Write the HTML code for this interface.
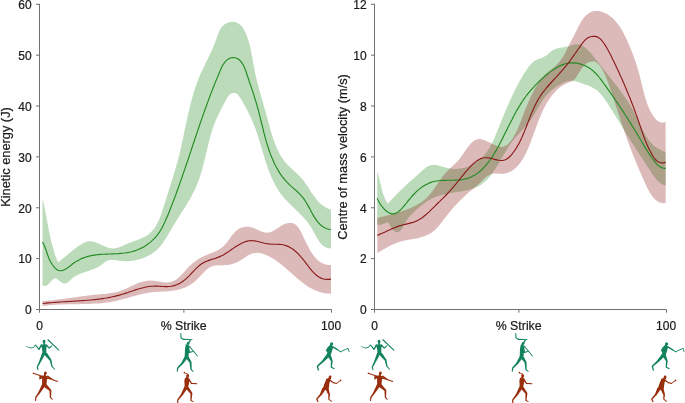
<!DOCTYPE html>
<html><head><meta charset="utf-8"><title>Figure</title>
<style>
html,body{margin:0;padding:0;background:#fff;}
body{width:685px;height:403px;overflow:hidden;}
svg{display:block;will-change:transform;}
text{font-family:"Liberation Sans",sans-serif;font-size:12px;fill:#1a1a1a;stroke:#1a1a1a;stroke-width:0.22px;}
</style></head><body>
<svg width="685" height="403" viewBox="0 0 685 403">
<!-- left chart -->
<path d="M42.5 198.0L42.9 199.9L43.4 201.9L43.8 203.9L44.2 205.8L44.6 207.8L45.0 209.8L45.3 211.7L45.7 213.7L46.1 215.7L46.5 217.7L46.8 219.7L47.2 221.7L47.6 223.6L48.0 225.6L48.3 227.6L48.7 229.6L49.1 231.6L49.5 233.6L50.0 235.5L50.4 237.5L50.8 239.5L51.3 241.4L51.8 243.4L52.3 245.3L52.8 247.2L53.4 249.1L53.9 251.1L54.5 253.0L55.1 254.9L55.8 256.7L56.5 258.6L57.2 260.5L57.9 262.3L59.5 261.2L61.0 260.0L62.5 258.8L64.1 257.5L65.6 256.3L67.2 255.0L68.7 253.7L70.3 252.4L71.9 251.1L73.4 249.8L75.1 248.5L76.7 247.3L78.4 246.1L80.1 245.0L81.8 243.9L83.6 242.9L85.4 242.2L87.2 241.6L89.0 241.2L90.8 241.2L92.7 241.4L94.5 242.0L96.4 242.7L98.2 243.5L100.1 244.3L102.0 245.2L103.8 246.0L105.7 246.8L107.6 247.4L109.4 247.9L111.3 248.2L113.1 248.4L114.9 248.3L116.8 247.9L118.6 247.4L120.4 246.7L122.3 245.9L124.1 245.0L126.0 244.2L128.0 243.4L129.9 242.7L131.9 241.9L133.9 241.2L135.9 240.5L137.8 239.7L139.8 239.0L141.6 238.2L143.5 237.3L145.2 236.4L146.9 235.4L148.5 234.3L150.0 233.1L151.3 231.8L152.6 230.4L153.8 229.0L154.9 227.4L156.0 225.8L156.9 224.1L157.8 222.4L158.7 220.6L159.5 218.8L160.2 216.9L160.9 215.0L161.6 213.0L162.3 211.1L162.9 209.1L163.5 207.1L164.1 205.2L164.8 203.2L165.4 201.2L166.0 199.3L166.6 197.4L167.2 195.4L167.8 193.5L168.4 191.6L169.0 189.7L169.6 187.8L170.2 185.9L170.8 184.0L171.4 182.1L172.0 180.2L172.6 178.3L173.2 176.4L173.8 174.5L174.3 172.6L174.9 170.7L175.4 168.8L176.0 166.9L176.5 165.0L177.1 163.1L177.6 161.2L178.1 159.3L178.6 157.4L179.1 155.5L179.6 153.5L180.0 151.6L180.5 149.7L180.9 147.7L181.4 145.8L181.8 143.8L182.2 141.9L182.7 139.9L183.1 137.9L183.5 136.0L183.9 134.0L184.3 132.0L184.7 130.1L185.2 128.1L185.6 126.1L186.0 124.1L186.4 122.2L186.8 120.2L187.2 118.2L187.7 116.3L188.1 114.3L188.6 112.3L189.0 110.4L189.5 108.4L190.0 106.5L190.4 104.5L190.9 102.6L191.4 100.6L192.0 98.7L192.5 96.8L193.1 94.9L193.6 93.0L194.2 91.0L194.8 89.2L195.4 87.3L196.1 85.4L196.7 83.5L197.4 81.7L198.1 79.8L198.9 78.0L199.6 76.2L200.4 74.3L201.2 72.5L202.0 70.7L202.9 69.0L203.7 67.2L204.6 65.4L205.4 63.6L206.3 61.8L207.2 60.0L208.1 58.2L208.9 56.4L209.8 54.6L210.6 52.8L211.5 51.0L212.3 49.2L213.1 47.3L213.9 45.4L214.7 43.6L215.4 41.6L216.1 39.7L216.8 37.8L217.5 35.8L218.2 33.9L218.9 32.0L219.8 30.2L220.7 28.4L221.8 26.9L223.2 25.4L224.7 24.2L226.5 23.2L228.5 22.5L230.5 22.0L232.4 21.8L234.3 21.9L236.0 22.3L237.6 23.0L239.0 23.9L240.4 25.0L241.6 26.3L242.8 27.8L243.8 29.5L244.8 31.2L245.7 33.1L246.5 35.1L247.2 37.1L247.9 39.1L248.6 41.1L249.1 43.1L249.7 45.1L250.2 47.2L250.6 49.1L251.0 51.1L251.4 53.1L251.8 55.1L252.2 57.0L252.5 59.0L252.9 60.9L253.2 62.9L253.6 64.8L253.9 66.8L254.3 68.7L254.7 70.6L255.1 72.6L255.5 74.5L255.9 76.4L256.4 78.3L256.8 80.3L257.3 82.2L257.8 84.1L258.3 86.0L258.8 87.9L259.3 89.9L259.9 91.8L260.4 93.7L260.9 95.6L261.5 97.6L262.0 99.5L262.6 101.4L263.2 103.3L263.7 105.3L264.3 107.2L264.8 109.2L265.4 111.1L265.9 113.0L266.5 115.0L267.0 116.9L267.6 118.9L268.1 120.9L268.6 122.8L269.2 124.8L269.7 126.7L270.2 128.7L270.8 130.7L271.3 132.6L271.9 134.5L272.5 136.5L273.1 138.4L273.7 140.3L274.4 142.1L275.1 144.0L275.8 145.8L276.6 147.7L277.4 149.5L278.3 151.2L279.2 153.0L280.1 154.7L281.1 156.4L282.2 158.0L283.3 159.6L284.5 161.2L285.7 162.7L287.0 164.2L288.4 165.7L289.8 167.1L291.3 168.5L292.8 169.8L294.3 171.2L295.9 172.6L297.4 173.9L298.8 175.3L300.2 176.8L301.6 178.2L302.9 179.7L304.1 181.3L305.2 182.9L306.3 184.5L307.4 186.1L308.5 187.8L309.5 189.5L310.6 191.2L311.7 192.9L312.9 194.6L314.1 196.2L315.3 197.8L316.5 199.4L317.8 200.9L319.2 202.4L320.7 203.7L322.2 205.0L323.8 206.2L325.4 207.2L327.2 208.2L329.0 209.0L331.0 209.6L331.0 248.6L328.8 248.3L326.8 247.7L325.0 246.9L323.4 245.9L322.0 244.7L320.6 243.3L319.4 241.9L318.3 240.3L317.3 238.6L316.3 236.8L315.3 235.0L314.4 233.2L313.4 231.4L312.4 229.5L311.4 227.8L310.3 226.0L309.1 224.4L307.9 222.7L306.6 221.1L305.3 219.6L304.0 218.1L302.6 216.6L301.2 215.1L299.8 213.7L298.4 212.2L296.9 210.8L295.4 209.4L294.0 208.0L292.5 206.6L291.1 205.2L289.7 203.8L288.3 202.4L286.9 200.9L285.5 199.5L284.2 198.0L282.9 196.5L281.7 195.0L280.5 193.4L279.4 191.8L278.3 190.2L277.2 188.5L276.2 186.8L275.2 185.1L274.3 183.3L273.4 181.6L272.6 179.8L271.7 178.0L271.0 176.1L270.2 174.3L269.5 172.4L268.7 170.5L268.0 168.7L267.4 166.8L266.7 164.8L266.1 162.9L265.5 161.0L264.9 159.0L264.3 157.1L263.7 155.1L263.1 153.2L262.5 151.2L261.9 149.3L261.4 147.3L260.8 145.4L260.2 143.5L259.6 141.5L259.0 139.6L258.4 137.7L257.8 135.8L257.2 133.9L256.6 132.0L255.9 130.1L255.2 128.3L254.6 126.5L253.8 124.6L253.1 122.8L252.3 121.0L251.6 119.2L250.8 117.5L249.9 115.7L249.1 113.9L248.2 112.1L247.3 110.3L246.3 108.5L245.3 106.7L244.3 104.8L243.3 103.0L242.2 101.1L241.1 99.2L240.0 97.4L238.7 95.7L237.4 94.3L235.9 93.3L234.4 92.9L232.7 92.9L231.2 93.5L229.8 94.6L228.5 96.0L227.3 97.7L226.2 99.6L225.1 101.6L224.1 103.6L223.1 105.5L222.1 107.3L221.2 109.1L220.2 110.9L219.3 112.7L218.5 114.4L217.6 116.2L216.8 118.0L216.0 119.7L215.3 121.6L214.6 123.4L213.9 125.2L213.2 127.1L212.6 129.0L212.0 130.9L211.4 132.8L210.9 134.7L210.3 136.6L209.8 138.6L209.3 140.5L208.8 142.5L208.3 144.5L207.8 146.4L207.4 148.4L206.9 150.4L206.4 152.4L206.0 154.3L205.5 156.3L205.0 158.3L204.5 160.2L204.0 162.2L203.5 164.2L203.0 166.1L202.5 168.1L202.0 170.0L201.4 171.9L200.8 173.8L200.2 175.8L199.6 177.6L199.0 179.5L198.3 181.4L197.6 183.3L196.9 185.1L196.1 186.9L195.3 188.8L194.4 190.6L193.5 192.3L192.6 194.1L191.7 195.9L190.7 197.6L189.8 199.4L188.7 201.1L187.7 202.8L186.7 204.5L185.6 206.2L184.6 207.9L183.5 209.6L182.4 211.3L181.3 213.0L180.2 214.7L179.1 216.4L178.0 218.1L177.0 219.8L175.9 221.5L174.8 223.3L173.8 225.0L172.7 226.7L171.7 228.4L170.7 230.2L169.7 231.9L168.7 233.7L167.7 235.4L166.7 237.1L165.6 238.8L164.5 240.5L163.4 242.1L162.3 243.7L161.1 245.2L159.8 246.7L158.5 248.2L157.1 249.5L155.6 250.9L154.0 252.1L152.4 253.3L150.7 254.4L148.9 255.4L147.1 256.3L145.2 257.2L143.3 258.0L141.3 258.7L139.3 259.3L137.4 259.8L135.4 260.3L133.4 260.6L131.5 260.9L129.5 261.1L127.6 261.2L125.7 261.2L123.7 261.1L121.8 260.9L119.7 260.7L117.7 260.4L115.5 260.1L113.4 259.9L111.4 259.8L109.4 260.0L107.6 260.6L105.9 261.5L104.3 262.6L102.7 263.9L101.1 265.1L99.4 266.3L97.7 267.2L95.9 268.1L94.1 268.9L92.2 269.6L90.3 270.3L88.4 270.9L86.6 271.5L84.7 272.2L82.8 272.8L81.0 273.5L79.2 274.2L77.4 275.1L75.7 276.0L74.0 277.1L72.3 278.3L70.8 279.7L69.2 281.1L67.7 282.4L66.1 283.3L64.4 283.5L62.6 283.0L60.8 281.9L59.0 280.6L57.4 279.2L55.9 278.0L54.0 278.7L52.3 279.9L50.8 281.6L49.3 283.3L47.9 284.8L46.3 285.8L44.5 286.1L42.5 285.4Z" fill="rgba(34,139,34,0.31)"/>
<path d="M42.6 301.0L44.6 300.9L46.6 300.7L48.6 300.6L50.6 300.4L52.6 300.2L54.6 300.0L56.6 299.8L58.6 299.5L60.6 299.3L62.6 299.0L64.6 298.8L66.6 298.5L68.6 298.2L70.5 298.0L72.5 297.7L74.5 297.4L76.5 297.1L78.5 296.8L80.5 296.6L82.5 296.3L84.4 296.0L86.4 295.8L88.4 295.5L90.4 295.3L92.4 295.1L94.4 294.8L96.4 294.6L98.5 294.5L100.5 294.3L102.5 294.1L104.5 293.9L106.5 293.7L108.5 293.4L110.5 293.1L112.5 292.8L114.4 292.4L116.4 292.0L118.3 291.5L120.2 290.9L122.1 290.3L124.0 289.5L125.9 288.7L127.7 287.9L129.6 287.0L131.4 286.1L133.2 285.2L135.1 284.4L136.9 283.6L138.7 282.9L140.6 282.2L142.5 281.7L144.4 281.3L146.3 280.9L148.2 280.7L150.1 280.6L152.1 280.7L154.1 280.8L156.1 281.1L158.1 281.4L160.2 281.8L162.2 282.1L164.2 282.4L166.3 282.5L168.2 282.4L170.2 282.0L172.1 281.5L173.9 280.8L175.6 279.9L177.2 278.8L178.7 277.6L180.1 276.2L181.5 274.8L182.9 273.3L184.3 271.7L185.7 270.2L187.0 268.6L188.5 267.1L189.9 265.7L191.4 264.4L192.9 263.1L194.5 261.8L196.1 260.7L197.8 259.6L199.5 258.5L201.2 257.6L203.0 256.6L204.8 255.8L206.6 254.9L208.5 254.2L210.3 253.4L212.2 252.7L214.1 251.9L215.9 251.1L217.7 250.2L219.4 249.2L221.1 248.1L222.7 246.9L224.1 245.5L225.5 244.0L226.9 242.4L228.1 240.7L229.4 239.0L230.7 237.3L231.9 235.6L233.2 234.0L234.5 232.5L235.9 231.1L237.4 229.9L238.9 228.8L240.6 228.0L242.3 227.4L244.2 227.0L246.0 226.8L248.0 226.8L249.9 227.1L251.9 227.5L253.8 228.1L255.7 228.9L257.6 229.8L259.5 230.7L261.4 231.5L263.3 232.1L265.2 232.6L267.0 232.8L268.9 232.6L270.7 232.0L272.5 231.2L274.3 230.2L276.1 229.1L278.0 227.9L279.8 226.7L281.6 225.6L283.5 224.6L285.3 223.8L287.2 223.2L289.0 222.9L290.8 222.9L292.4 223.1L294.0 223.7L295.5 224.6L296.9 225.8L298.1 227.3L299.3 228.9L300.4 230.8L301.4 232.7L302.4 234.7L303.3 236.7L304.2 238.6L305.1 240.5L306.0 242.3L306.8 244.1L307.8 245.8L308.7 247.6L309.7 249.4L310.7 251.2L311.8 252.9L312.9 254.6L314.2 256.2L315.4 257.8L316.8 259.2L318.2 260.5L319.8 261.7L321.4 262.8L323.1 263.6L324.9 264.3L326.8 264.7L328.9 264.9L331.0 264.9L331.0 293.7L328.8 293.6L326.7 293.5L324.7 293.2L322.7 292.8L320.7 292.3L318.8 291.7L316.9 291.1L315.1 290.3L313.3 289.5L311.6 288.6L309.9 287.7L308.2 286.7L306.6 285.6L305.0 284.5L303.4 283.3L301.8 282.1L300.2 280.8L298.7 279.6L297.1 278.3L295.6 276.9L294.1 275.6L292.6 274.2L291.1 272.9L289.6 271.5L288.0 270.2L286.5 268.8L285.0 267.5L283.4 266.2L281.8 264.9L280.2 263.6L278.6 262.4L277.0 261.2L275.3 260.1L273.6 259.0L271.9 258.0L270.1 257.0L268.3 256.1L266.5 255.3L264.6 254.5L262.7 253.8L260.8 253.3L258.8 253.0L256.9 252.8L255.0 252.9L253.1 253.2L251.3 253.8L249.5 254.7L247.7 255.6L246.0 256.8L244.3 257.9L242.5 259.1L240.8 260.2L239.1 261.3L237.3 262.2L235.5 263.0L233.7 263.6L231.8 264.2L229.9 264.6L228.0 264.9L226.0 265.1L224.0 265.2L221.9 265.2L219.9 265.2L217.9 265.3L215.9 265.5L213.9 265.8L212.1 266.3L210.4 267.0L208.7 268.0L207.1 269.2L205.6 270.5L204.2 271.9L202.8 273.4L201.3 275.0L199.9 276.6L198.5 278.1L197.0 279.6L195.5 281.0L193.9 282.3L192.3 283.5L190.6 284.6L188.9 285.6L187.1 286.6L185.3 287.4L183.5 288.1L181.6 288.8L179.7 289.3L177.8 289.8L175.9 290.2L173.9 290.5L172.0 290.8L170.0 291.0L168.0 291.2L166.0 291.4L164.0 291.5L162.0 291.6L160.0 291.7L158.0 291.8L156.0 292.0L154.0 292.1L152.0 292.3L150.0 292.6L148.0 292.8L146.0 293.2L144.1 293.6L142.1 294.0L140.1 294.5L138.2 295.0L136.3 295.5L134.3 296.0L132.4 296.6L130.4 297.1L128.5 297.7L126.6 298.2L124.6 298.8L122.7 299.3L120.7 299.8L118.8 300.3L116.8 300.8L114.9 301.2L112.9 301.6L110.9 301.9L108.9 302.2L107.0 302.5L105.0 302.8L103.0 303.0L101.0 303.2L99.0 303.4L97.0 303.5L94.9 303.6L92.9 303.7L90.9 303.8L88.9 303.9L86.9 304.0L84.9 304.0L82.8 304.1L80.8 304.1L78.8 304.2L76.8 304.2L74.7 304.2L72.7 304.2L70.7 304.3L68.7 304.3L66.6 304.3L64.6 304.4L62.6 304.5L60.6 304.5L58.6 304.6L56.6 304.7L54.5 304.8L52.5 305.0L50.5 305.1L48.6 305.3L46.6 305.5L44.6 305.7L42.6 306.0Z" fill="rgba(128,0,0,0.27)"/>
<path d="M42.5 242.0L43.5 243.8L44.3 245.6L45.1 247.5L45.7 249.3L46.4 251.1L47.0 252.9L47.6 254.7L48.3 256.6L49.0 258.5L49.9 260.4L50.9 262.3L52.1 264.3L53.4 266.2L54.9 267.9L56.4 269.3L57.9 270.2L59.5 270.7L61.1 270.7L62.7 270.4L64.4 269.7L66.0 268.8L67.7 267.7L69.4 266.5L71.1 265.2L72.8 263.8L74.6 262.6L76.3 261.4L78.1 260.4L79.9 259.4L81.6 258.6L83.4 257.9L85.3 257.2L87.1 256.6L89.0 256.1L90.8 255.7L92.7 255.4L94.6 255.1L96.5 254.8L98.5 254.6L100.4 254.4L102.4 254.3L104.4 254.2L106.4 254.1L108.4 254.0L110.4 254.0L112.5 253.9L114.5 253.8L116.6 253.7L118.6 253.6L120.6 253.4L122.7 253.2L124.7 253.0L126.7 252.7L128.7 252.4L130.6 252.0L132.6 251.5L134.5 250.9L136.3 250.3L138.2 249.5L140.0 248.7L141.8 247.9L143.5 246.9L145.2 245.9L146.9 244.8L148.5 243.6L150.1 242.4L151.6 241.1L153.0 239.7L154.5 238.3L155.8 236.8L157.1 235.3L158.3 233.7L159.4 232.1L160.5 230.4L161.5 228.7L162.5 226.9L163.4 225.1L164.3 223.3L165.1 221.4L165.9 219.6L166.7 217.7L167.5 215.9L168.3 214.0L169.0 212.2L169.8 210.3L170.5 208.5L171.2 206.6L171.9 204.8L172.7 202.9L173.4 201.1L174.1 199.2L174.8 197.4L175.5 195.5L176.2 193.6L176.8 191.8L177.5 189.9L178.2 188.0L178.9 186.1L179.5 184.3L180.2 182.4L180.9 180.5L181.5 178.6L182.2 176.7L182.8 174.8L183.5 172.9L184.1 171.0L184.8 169.1L185.4 167.2L186.1 165.3L186.7 163.4L187.4 161.5L188.0 159.6L188.7 157.7L189.3 155.8L189.9 153.9L190.6 152.0L191.2 150.1L191.8 148.2L192.5 146.3L193.1 144.4L193.7 142.5L194.4 140.6L195.0 138.7L195.6 136.8L196.3 134.9L196.9 133.0L197.6 131.1L198.2 129.2L198.9 127.3L199.5 125.4L200.1 123.5L200.8 121.6L201.4 119.7L202.1 117.9L202.7 116.0L203.4 114.1L204.1 112.2L204.7 110.4L205.4 108.5L206.1 106.7L206.7 104.8L207.4 102.9L208.1 101.1L208.8 99.2L209.5 97.4L210.2 95.5L210.9 93.6L211.6 91.8L212.4 89.9L213.1 88.0L213.8 86.2L214.6 84.3L215.3 82.4L216.1 80.5L216.9 78.6L217.7 76.7L218.4 74.8L219.3 72.9L220.1 70.9L220.9 69.0L221.8 67.1L222.7 65.3L223.8 63.6L224.9 62.0L226.2 60.6L227.7 59.4L229.3 58.5L231.1 57.8L232.9 57.6L234.8 57.7L236.6 58.2L238.2 59.1L239.7 60.3L241.1 61.7L242.2 63.3L243.3 65.0L244.1 66.9L244.9 68.8L245.7 70.8L246.4 72.8L247.0 74.8L247.7 76.8L248.4 78.7L249.0 80.7L249.7 82.6L250.3 84.5L251.0 86.4L251.6 88.3L252.2 90.2L252.9 92.0L253.5 93.9L254.1 95.8L254.6 97.6L255.2 99.5L255.8 101.4L256.4 103.2L256.9 105.1L257.4 107.0L258.0 108.9L258.5 110.8L259.0 112.8L259.5 114.7L260.0 116.6L260.4 118.6L260.9 120.5L261.4 122.5L261.9 124.5L262.4 126.4L262.9 128.4L263.4 130.4L263.8 132.3L264.4 134.3L264.9 136.3L265.4 138.2L265.9 140.2L266.5 142.1L267.1 144.1L267.7 146.0L268.3 147.9L268.9 149.8L269.6 151.7L270.2 153.6L271.0 155.5L271.7 157.3L272.5 159.1L273.3 161.0L274.1 162.8L274.9 164.5L275.8 166.3L276.8 168.0L277.8 169.7L278.8 171.4L279.8 173.1L280.9 174.7L282.1 176.3L283.3 177.8L284.5 179.4L285.8 180.9L287.2 182.4L288.6 183.8L290.0 185.2L291.5 186.6L293.1 187.9L294.6 189.3L296.2 190.6L297.7 192.0L299.1 193.4L300.5 194.8L301.8 196.3L303.1 197.8L304.2 199.4L305.3 201.0L306.3 202.7L307.3 204.4L308.3 206.1L309.3 207.9L310.2 209.6L311.2 211.4L312.2 213.3L313.2 215.1L314.2 216.9L315.4 218.6L316.5 220.3L317.7 221.9L319.1 223.4L320.4 224.8L321.9 226.0L323.5 227.1L325.2 228.0L327.0 228.7L328.9 229.2L331.0 229.5" fill="none" stroke="#228b22" stroke-width="1.15"/>
<path d="M42.6 303.5L44.6 303.3L46.6 303.1L48.5 302.9L50.5 302.7L52.5 302.5L54.5 302.4L56.5 302.2L58.5 302.1L60.5 302.0L62.5 301.8L64.5 301.7L66.6 301.6L68.6 301.5L70.6 301.4L72.6 301.3L74.6 301.1L76.6 301.0L78.6 300.9L80.6 300.8L82.7 300.6L84.7 300.5L86.7 300.3L88.7 300.2L90.7 300.0L92.7 299.8L94.7 299.6L96.7 299.4L98.7 299.1L100.7 298.9L102.6 298.6L104.6 298.3L106.6 298.0L108.6 297.6L110.5 297.2L112.5 296.8L114.4 296.4L116.4 295.9L118.3 295.4L120.3 294.9L122.2 294.3L124.1 293.7L126.0 293.1L127.9 292.5L129.8 291.8L131.7 291.2L133.6 290.5L135.5 289.9L137.4 289.3L139.3 288.7L141.2 288.2L143.2 287.7L145.1 287.2L147.1 286.8L149.0 286.5L151.0 286.3L153.0 286.2L155.0 286.1L157.0 286.1L159.1 286.2L161.1 286.4L163.2 286.5L165.2 286.6L167.2 286.6L169.2 286.5L171.1 286.3L173.0 285.9L174.9 285.4L176.7 284.7L178.5 283.9L180.3 283.0L181.9 282.0L183.6 280.8L185.1 279.6L186.7 278.2L188.1 276.8L189.6 275.3L191.0 273.8L192.4 272.3L193.8 270.8L195.3 269.4L196.7 267.9L198.2 266.6L199.7 265.3L201.3 264.1L203.0 263.1L204.7 262.1L206.5 261.3L208.3 260.6L210.2 259.9L212.1 259.3L214.1 258.7L216.0 258.1L217.9 257.4L219.7 256.6L221.6 255.8L223.4 254.9L225.1 253.8L226.9 252.8L228.5 251.6L230.2 250.5L231.9 249.3L233.6 248.1L235.2 247.0L236.9 245.9L238.6 244.9L240.3 243.9L242.1 243.0L243.8 242.3L245.6 241.6L247.4 241.1L249.2 240.8L251.1 240.6L252.9 240.7L254.8 240.9L256.7 241.2L258.7 241.7L260.6 242.2L262.6 242.7L264.6 243.2L266.7 243.6L268.7 243.9L270.8 244.1L272.9 244.2L275.0 244.2L277.1 244.3L279.1 244.4L281.1 244.5L283.0 244.8L284.9 245.3L286.7 245.9L288.4 246.6L290.1 247.5L291.7 248.4L293.3 249.5L294.8 250.7L296.2 252.0L297.7 253.4L299.1 254.8L300.4 256.3L301.8 257.8L303.1 259.4L304.4 261.0L305.6 262.7L306.9 264.4L308.2 266.0L309.4 267.7L310.7 269.3L312.0 270.9L313.4 272.3L314.7 273.7L316.2 275.0L317.7 276.2L319.3 277.2L321.0 278.1L322.7 278.7L324.6 279.2L326.6 279.4L328.7 279.4L331.0 279.1" fill="none" stroke="#8b1a1a" stroke-width="1.15"/>
<!-- right chart -->
<path d="M377.2 171.5L377.8 173.4L378.4 175.3L378.9 177.2L379.4 179.2L379.9 181.1L380.3 183.1L380.8 185.1L381.2 187.1L381.7 189.0L382.3 191.0L382.8 192.9L383.5 194.8L384.2 196.6L384.9 198.5L385.8 200.3L386.8 202.0L387.9 203.7L389.2 202.3L390.5 200.8L391.8 199.4L393.2 197.9L394.6 196.5L395.9 195.1L397.3 193.6L398.7 192.2L400.2 190.8L401.6 189.4L403.0 188.0L404.5 186.7L405.9 185.3L407.4 184.0L408.8 182.6L410.3 181.3L411.8 180.0L413.3 178.7L414.8 177.3L416.3 176.0L417.8 174.7L419.3 173.3L420.8 171.9L422.3 170.6L423.8 169.2L425.4 168.0L427.0 166.8L428.7 165.9L430.4 165.2L432.2 164.9L434.1 164.8L436.1 165.1L438.1 165.6L440.2 166.1L442.2 166.8L444.3 167.3L446.3 167.8L448.3 168.2L450.3 168.6L452.3 168.8L454.2 168.9L456.1 168.9L458.1 168.8L460.0 168.6L461.9 168.3L463.8 167.9L465.7 167.4L467.6 166.7L469.4 166.0L471.2 165.1L473.0 164.2L474.8 163.1L476.5 162.0L478.1 160.8L479.7 159.5L481.3 158.2L482.7 156.8L484.1 155.3L485.4 153.8L486.7 152.3L487.8 150.6L488.9 149.0L489.9 147.3L490.9 145.6L491.8 143.8L492.6 142.1L493.5 140.3L494.3 138.4L495.0 136.6L495.8 134.8L496.5 132.9L497.3 131.1L498.0 129.2L498.8 127.4L499.5 125.5L500.3 123.7L501.0 121.8L501.8 120.0L502.5 118.1L503.3 116.3L504.0 114.4L504.8 112.6L505.6 110.7L506.4 108.9L507.2 107.0L508.0 105.2L508.8 103.4L509.6 101.5L510.4 99.7L511.2 97.9L512.1 96.1L512.9 94.3L513.8 92.4L514.7 90.7L515.6 88.9L516.5 87.1L517.4 85.3L518.4 83.5L519.3 81.8L520.3 80.0L521.3 78.3L522.3 76.5L523.4 74.8L524.4 73.1L525.5 71.4L526.6 69.7L527.7 68.0L528.9 66.4L530.1 64.9L531.5 63.5L532.9 62.2L534.4 61.0L536.1 60.1L538.0 59.3L539.9 58.6L541.8 57.9L543.6 57.1L545.4 56.1L547.1 55.0L548.6 53.6L550.1 52.3L551.7 51.0L553.3 50.0L555.0 49.2L556.7 48.6L558.6 48.1L560.4 47.7L562.4 47.4L564.3 47.1L566.3 46.7L568.4 46.2L570.4 45.7L572.5 45.1L574.5 44.6L576.4 44.3L578.3 44.3L580.1 44.6L581.8 45.3L583.4 46.3L584.9 47.5L586.4 48.8L587.8 50.2L589.2 51.6L590.6 53.1L591.9 54.6L593.2 56.1L594.5 57.7L595.8 59.3L597.0 60.8L598.3 62.4L599.5 64.0L600.8 65.6L602.0 67.2L603.2 68.8L604.5 70.4L605.7 72.0L607.0 73.5L608.2 75.1L609.4 76.6L610.7 78.2L611.9 79.8L613.2 81.3L614.4 82.9L615.6 84.5L616.8 86.0L618.0 87.6L619.2 89.2L620.4 90.8L621.6 92.4L622.7 94.0L623.9 95.6L625.0 97.2L626.1 98.9L627.2 100.5L628.3 102.2L629.4 103.9L630.4 105.6L631.4 107.3L632.4 109.1L633.4 110.8L634.3 112.6L635.2 114.4L636.1 116.3L637.0 118.1L637.9 120.0L638.8 121.8L639.6 123.7L640.5 125.5L641.4 127.4L642.3 129.2L643.2 131.0L644.1 132.8L645.1 134.5L646.1 136.2L647.2 137.8L648.3 139.4L649.5 141.0L650.7 142.4L652.0 143.8L653.4 145.2L654.8 146.4L656.4 147.6L658.0 148.6L659.8 149.6L661.6 150.5L663.5 151.3L665.6 151.9L665.7 185.6L663.7 185.0L661.9 184.2L660.2 183.1L658.7 181.9L657.3 180.6L656.0 179.1L654.8 177.5L653.6 175.9L652.5 174.2L651.4 172.5L650.3 170.8L649.1 169.1L648.0 167.4L646.9 165.7L645.8 164.0L644.7 162.3L643.6 160.6L642.5 159.0L641.4 157.3L640.3 155.6L639.2 153.9L638.1 152.2L637.0 150.6L635.9 148.9L634.8 147.2L633.7 145.5L632.7 143.8L631.6 142.1L630.5 140.5L629.5 138.8L628.4 137.1L627.4 135.4L626.3 133.7L625.3 132.0L624.2 130.3L623.2 128.6L622.2 126.9L621.1 125.2L620.1 123.5L619.0 121.8L618.0 120.1L616.9 118.4L615.9 116.6L614.8 114.9L613.7 113.2L612.7 111.5L611.6 109.8L610.5 108.1L609.4 106.3L608.4 104.6L607.3 102.9L606.1 101.2L605.0 99.5L603.8 97.8L602.6 96.2L601.3 94.7L600.0 93.2L598.6 91.8L597.2 90.6L595.6 89.4L594.0 88.4L592.3 87.4L590.5 86.6L588.6 85.8L586.7 85.1L584.8 84.4L582.9 83.7L580.9 82.9L579.0 82.3L577.0 81.7L575.1 81.2L573.1 80.9L571.2 80.8L569.3 80.9L567.4 81.2L565.6 81.8L563.7 82.6L561.9 83.5L560.1 84.4L558.4 85.5L556.7 86.6L555.0 87.7L553.4 88.9L551.8 90.2L550.3 91.5L548.8 92.9L547.4 94.3L546.1 95.8L544.8 97.3L543.6 98.9L542.5 100.5L541.4 102.2L540.4 103.9L539.3 105.6L538.3 107.4L537.4 109.1L536.4 110.9L535.4 112.6L534.4 114.4L533.3 116.1L532.3 117.8L531.1 119.5L530.0 121.1L528.7 122.7L527.5 124.3L526.2 125.8L524.8 127.3L523.5 128.8L522.1 130.3L520.7 131.8L519.3 133.2L518.0 134.7L516.6 136.2L515.3 137.7L514.0 139.2L512.8 140.8L511.6 142.4L510.5 144.0L509.3 145.6L508.3 147.2L507.2 148.9L506.2 150.6L505.2 152.3L504.2 154.0L503.2 155.7L502.2 157.4L501.2 159.1L500.2 160.9L499.2 162.6L498.2 164.4L497.1 166.1L496.0 167.8L494.9 169.6L493.8 171.3L492.6 173.0L491.4 174.6L490.1 176.2L488.8 177.8L487.4 179.3L486.0 180.7L484.5 182.1L483.0 183.3L481.4 184.5L479.8 185.5L478.1 186.5L476.3 187.3L474.5 188.1L472.6 188.7L470.7 189.3L468.8 189.8L466.8 190.3L464.8 190.7L462.8 191.0L460.8 191.4L458.8 191.7L456.8 192.0L454.8 192.3L452.8 192.7L450.8 193.0L448.9 193.4L446.9 193.8L445.0 194.2L443.1 194.6L441.2 195.2L439.3 195.7L437.4 196.3L435.6 197.0L433.8 197.8L432.0 198.6L430.2 199.5L428.5 200.6L426.7 201.6L425.0 202.8L423.4 204.0L421.7 205.2L420.1 206.5L418.6 207.9L417.0 209.2L415.5 210.6L414.1 211.9L412.7 213.2L411.3 214.6L410.0 215.9L408.7 217.4L407.5 219.0L406.4 220.7L405.4 222.7L404.3 224.7L403.3 226.6L402.2 228.5L401.1 230.0L399.8 231.2L398.3 232.0L396.8 232.2L395.3 231.8L393.8 230.7L392.4 229.2L391.1 227.3L389.9 225.4L388.8 223.5L387.9 222.0L385.8 222.9L383.8 223.8L381.7 224.6L379.5 225.0L377.2 224.8Z" fill="rgba(34,139,34,0.31)"/>
<path d="M377.2 217.9L379.1 217.4L381.0 216.9L382.9 216.4L384.8 215.9L386.8 215.4L388.7 214.9L390.7 214.4L392.6 213.9L394.6 213.3L396.5 212.8L398.5 212.2L400.4 211.6L402.4 211.0L404.3 210.4L406.2 209.7L408.1 209.0L409.9 208.2L411.7 207.4L413.5 206.6L415.3 205.7L417.0 204.8L418.7 203.8L420.4 202.7L422.0 201.6L423.5 200.5L425.0 199.2L426.5 197.9L427.9 196.5L429.2 195.1L430.5 193.6L431.7 192.0L432.9 190.4L434.1 188.8L435.3 187.1L436.4 185.4L437.6 183.7L438.7 182.0L439.9 180.4L441.0 178.7L442.2 177.1L443.5 175.5L444.7 173.9L446.0 172.4L447.4 171.0L448.8 169.6L450.2 168.2L451.6 166.9L453.1 165.5L454.5 164.2L455.9 162.8L457.3 161.4L458.6 159.9L459.9 158.4L461.1 156.8L462.3 155.1L463.5 153.4L464.6 151.6L465.8 149.9L467.1 148.1L468.3 146.4L469.7 144.8L471.0 143.3L472.5 141.9L473.9 140.8L475.5 139.9L477.1 139.3L478.8 139.1L480.5 139.1L482.3 139.5L484.1 140.1L486.0 140.8L487.9 141.7L489.8 142.6L491.7 143.6L493.6 144.5L495.5 145.3L497.4 146.0L499.2 146.5L501.0 146.7L502.8 146.7L504.4 146.3L506.0 145.5L507.5 144.5L508.9 143.2L510.3 141.6L511.6 139.9L512.8 138.1L513.9 136.1L515.0 134.2L516.0 132.2L516.9 130.3L517.7 128.4L518.6 126.6L519.3 124.8L520.1 123.0L520.8 121.2L521.5 119.4L522.1 117.6L522.8 115.8L523.5 114.0L524.3 112.1L525.0 110.3L525.7 108.4L526.5 106.6L527.3 104.7L528.0 102.9L528.9 101.0L529.7 99.2L530.5 97.3L531.4 95.5L532.3 93.7L533.2 91.9L534.1 90.1L535.1 88.3L536.1 86.6L537.1 84.9L538.2 83.2L539.3 81.5L540.4 79.9L541.6 78.4L542.9 76.9L544.2 75.4L545.6 74.0L547.1 72.7L548.7 71.4L550.3 70.2L551.9 68.9L553.5 67.7L555.0 66.4L556.5 65.0L557.9 63.6L559.2 62.1L560.4 60.6L561.6 59.0L562.7 57.3L563.7 55.6L564.7 53.9L565.6 52.1L566.5 50.3L567.4 48.5L568.3 46.7L569.1 45.0L570.0 43.2L570.9 41.4L571.8 39.7L572.7 37.9L573.6 36.2L574.6 34.4L575.5 32.6L576.4 30.8L577.3 29.0L578.2 27.1L579.1 25.2L580.1 23.4L581.1 21.6L582.2 19.9L583.4 18.2L584.7 16.7L586.2 15.3L587.7 14.1L589.3 13.0L591.0 12.1L592.8 11.5L594.7 11.1L596.6 10.9L598.6 11.1L600.5 11.4L602.5 12.0L604.3 12.8L606.1 13.6L607.9 14.6L609.5 15.7L611.1 16.9L612.5 18.1L614.0 19.5L615.3 20.9L616.6 22.4L617.9 24.0L619.0 25.6L620.2 27.3L621.2 29.0L622.3 30.8L623.3 32.6L624.2 34.4L625.1 36.3L626.0 38.1L626.9 40.0L627.7 41.9L628.6 43.7L629.4 45.6L630.1 47.4L630.9 49.3L631.6 51.1L632.4 53.0L633.1 54.8L633.7 56.7L634.4 58.6L635.1 60.4L635.7 62.3L636.3 64.2L636.9 66.0L637.5 67.9L638.0 69.8L638.6 71.7L639.1 73.6L639.6 75.5L640.2 77.5L640.6 79.4L641.1 81.3L641.6 83.3L642.1 85.3L642.5 87.2L643.0 89.2L643.5 91.2L644.0 93.1L644.5 95.1L645.1 97.0L645.6 99.0L646.2 100.9L646.9 102.8L647.6 104.7L648.3 106.6L649.1 108.4L650.0 110.2L650.9 112.0L651.9 113.8L652.9 115.5L654.1 117.1L655.3 118.7L656.6 120.1L658.1 121.3L659.7 122.1L661.5 122.6L663.4 122.6L665.6 122.1L665.7 202.8L663.7 203.2L661.7 203.1L659.9 202.6L658.2 201.8L656.6 200.7L655.1 199.4L653.7 197.9L652.4 196.3L651.1 194.6L650.0 192.9L649.0 191.1L648.0 189.3L647.1 187.5L646.3 185.7L645.4 183.9L644.6 182.1L643.8 180.3L643.0 178.5L642.2 176.7L641.4 174.8L640.6 173.0L639.8 171.2L639.0 169.3L638.2 167.5L637.4 165.6L636.6 163.8L635.9 161.9L635.1 160.1L634.4 158.2L633.6 156.3L632.9 154.5L632.1 152.6L631.4 150.7L630.7 148.8L630.0 147.0L629.3 145.1L628.6 143.2L627.9 141.3L627.2 139.4L626.5 137.5L625.9 135.6L625.2 133.7L624.5 131.8L623.9 129.9L623.2 128.0L622.5 126.1L621.9 124.2L621.3 122.3L620.6 120.4L620.0 118.5L619.4 116.6L618.7 114.7L618.1 112.8L617.5 110.9L616.9 109.0L616.2 107.1L615.6 105.2L615.0 103.3L614.4 101.4L613.8 99.5L613.2 97.6L612.6 95.7L612.0 93.8L611.4 91.9L610.7 90.1L610.1 88.2L609.4 86.3L608.7 84.4L608.0 82.5L607.3 80.6L606.5 78.7L605.7 76.8L604.9 74.9L604.0 73.0L603.1 71.1L602.1 69.2L601.1 67.4L600.0 65.7L598.7 64.2L597.3 63.0L595.7 62.1L594.0 61.6L592.1 61.5L590.3 61.7L588.5 62.3L586.8 63.3L585.2 64.5L583.7 66.0L582.4 67.7L581.1 69.4L580.0 71.2L578.9 73.0L577.9 74.8L576.8 76.4L575.6 78.0L574.3 79.4L572.8 80.5L571.1 81.5L569.3 82.3L567.4 83.1L565.6 83.9L563.8 84.8L562.1 85.8L560.4 86.9L558.8 88.2L557.3 89.5L555.9 90.9L554.6 92.4L553.2 93.9L552.0 95.4L550.8 97.0L549.7 98.6L548.6 100.2L547.5 101.8L546.5 103.5L545.6 105.2L544.6 107.0L543.7 108.7L542.9 110.5L542.1 112.3L541.3 114.1L540.5 115.9L539.7 117.7L539.0 119.6L538.3 121.5L537.6 123.3L536.9 125.2L536.2 127.1L535.5 129.0L534.8 130.9L534.1 132.8L533.4 134.8L532.7 136.7L532.0 138.6L531.3 140.5L530.6 142.4L529.8 144.4L529.0 146.3L528.2 148.2L527.4 150.1L526.5 151.9L525.7 153.8L524.7 155.6L523.7 157.4L522.7 159.2L521.6 160.9L520.5 162.5L519.3 164.1L518.1 165.6L516.7 167.0L515.3 168.3L513.9 169.4L512.3 170.5L510.7 171.5L508.9 172.3L507.1 173.0L505.2 173.5L503.3 173.7L501.3 173.8L499.2 173.7L497.2 173.6L495.2 173.5L493.2 173.6L491.4 174.0L489.7 174.7L488.0 175.7L486.4 176.8L484.9 178.1L483.4 179.6L481.9 181.0L480.4 182.5L478.9 184.0L477.4 185.3L475.8 186.6L474.3 187.9L472.7 189.2L471.1 190.4L469.6 191.7L468.1 193.0L466.6 194.3L465.1 195.7L463.7 197.0L462.2 198.4L460.8 199.8L459.4 201.2L458.0 202.7L456.7 204.1L455.3 205.6L454.0 207.1L452.6 208.6L451.3 210.2L450.0 211.7L448.7 213.3L447.5 214.8L446.2 216.4L444.9 218.0L443.7 219.6L442.5 221.2L441.2 222.8L440.0 224.4L438.7 226.0L437.4 227.5L436.0 228.9L434.6 230.3L433.1 231.5L431.5 232.7L429.8 233.7L428.0 234.6L426.2 235.4L424.3 236.2L422.4 236.8L420.4 237.4L418.4 237.9L416.5 238.4L414.5 238.8L412.5 239.1L410.5 239.5L408.5 239.8L406.6 240.2L404.6 240.5L402.7 241.0L400.8 241.5L398.9 242.1L397.0 242.8L395.1 243.5L393.3 244.3L391.4 245.1L389.6 246.0L387.8 247.0L386.1 247.9L384.3 248.9L382.5 249.9L380.8 250.9L379.1 252.0L377.4 253.0Z" fill="rgba(128,0,0,0.27)"/>
<path d="M377.2 198.3L377.9 199.9L378.8 201.6L379.8 203.4L381.0 205.2L382.4 207.0L383.8 208.6L385.4 210.2L387.0 211.5L388.6 212.6L390.3 213.4L392.0 213.8L393.7 213.8L395.3 213.4L396.9 212.7L398.5 211.6L400.0 210.3L401.5 208.8L402.9 207.3L404.3 205.6L405.7 204.0L407.0 202.4L408.3 200.7L409.6 199.1L410.9 197.6L412.2 196.0L413.6 194.5L415.0 193.1L416.4 191.7L417.8 190.4L419.3 189.1L420.9 187.9L422.4 186.8L424.1 185.7L425.7 184.8L427.5 183.9L429.2 183.1L431.0 182.4L432.9 181.8L434.8 181.3L436.8 181.0L438.8 180.7L440.9 180.5L442.9 180.3L445.1 180.3L447.2 180.2L449.3 180.2L451.5 180.2L453.6 180.2L455.7 180.1L457.8 180.0L459.8 179.9L461.9 179.7L463.8 179.3L465.7 178.9L467.6 178.4L469.4 177.7L471.1 177.0L472.8 176.1L474.4 175.2L476.0 174.2L477.6 173.1L479.1 172.0L480.5 170.8L482.0 169.5L483.3 168.1L484.7 166.7L486.0 165.2L487.2 163.7L488.5 162.1L489.7 160.5L490.8 158.8L492.0 157.2L493.1 155.4L494.2 153.7L495.2 151.9L496.3 150.1L497.3 148.3L498.3 146.5L499.3 144.7L500.2 142.9L501.2 141.0L502.1 139.2L503.0 137.4L503.9 135.6L504.8 133.8L505.7 132.0L506.6 130.2L507.5 128.4L508.4 126.6L509.3 124.8L510.2 123.0L511.1 121.2L512.0 119.5L512.9 117.7L513.8 116.0L514.7 114.2L515.7 112.5L516.6 110.8L517.6 109.1L518.6 107.4L519.6 105.7L520.6 104.1L521.7 102.4L522.8 100.8L523.9 99.1L525.0 97.5L526.2 96.0L527.4 94.4L528.6 92.8L529.9 91.3L531.2 89.8L532.5 88.3L533.9 86.8L535.2 85.3L536.7 83.9L538.1 82.4L539.6 81.0L541.1 79.6L542.6 78.2L544.2 76.9L545.7 75.5L547.3 74.2L549.0 72.9L550.6 71.6L552.3 70.4L553.9 69.3L555.7 68.2L557.4 67.2L559.2 66.2L561.0 65.4L562.8 64.6L564.6 64.0L566.5 63.5L568.4 63.2L570.3 62.9L572.2 62.9L574.2 62.9L576.2 63.1L578.1 63.5L580.1 63.9L582.0 64.5L583.9 65.2L585.7 66.0L587.5 66.9L589.2 68.0L590.8 69.1L592.4 70.3L593.9 71.6L595.3 73.0L596.7 74.4L598.1 75.9L599.3 77.5L600.6 79.1L601.8 80.7L603.0 82.3L604.2 84.0L605.4 85.6L606.6 87.3L607.7 88.9L608.9 90.6L610.0 92.2L611.2 93.9L612.3 95.5L613.5 97.2L614.6 98.8L615.7 100.5L616.8 102.1L618.0 103.8L619.1 105.5L620.2 107.1L621.3 108.8L622.4 110.4L623.5 112.1L624.5 113.8L625.6 115.5L626.7 117.1L627.8 118.8L628.8 120.5L629.9 122.2L631.0 123.9L632.0 125.6L633.1 127.3L634.1 129.0L635.1 130.7L636.2 132.4L637.2 134.1L638.2 135.8L639.3 137.5L640.3 139.2L641.3 141.0L642.3 142.7L643.3 144.4L644.4 146.2L645.4 147.9L646.5 149.6L647.5 151.3L648.6 153.0L649.7 154.7L650.8 156.4L652.0 158.0L653.2 159.7L654.4 161.3L655.7 162.9L657.0 164.3L658.4 165.6L660.0 166.8L661.7 167.6L663.6 168.2L665.7 168.4" fill="none" stroke="#228b22" stroke-width="1.15"/>
<path d="M377.2 235.3L379.1 234.6L381.0 233.8L382.8 233.0L384.6 232.2L386.4 231.3L388.2 230.5L390.0 229.7L391.8 228.8L393.7 228.1L395.5 227.3L397.4 226.6L399.3 225.9L401.2 225.4L403.2 224.8L405.1 224.4L407.1 223.9L409.1 223.4L411.1 222.9L413.0 222.4L414.9 221.7L416.7 220.9L418.4 220.0L420.1 219.0L421.8 217.9L423.4 216.8L424.9 215.5L426.4 214.3L427.9 212.9L429.4 211.6L430.8 210.2L432.3 208.7L433.7 207.3L435.1 205.9L436.6 204.5L438.0 203.0L439.5 201.6L440.9 200.2L442.3 198.8L443.8 197.4L445.2 196.0L446.6 194.5L447.9 193.1L449.3 191.6L450.6 190.2L452.0 188.7L453.2 187.2L454.5 185.6L455.8 184.1L457.0 182.6L458.3 181.0L459.5 179.4L460.8 177.9L462.0 176.3L463.3 174.8L464.6 173.2L465.9 171.7L467.2 170.2L468.6 168.7L469.9 167.2L471.3 165.7L472.8 164.2L474.3 162.9L475.8 161.6L477.4 160.4L479.1 159.4L480.8 158.6L482.6 158.0L484.5 157.7L486.4 157.7L488.4 157.9L490.5 158.3L492.6 158.8L494.7 159.4L496.8 159.9L498.9 160.3L500.8 160.5L502.8 160.4L504.6 160.0L506.3 159.3L507.8 158.3L509.3 157.0L510.7 155.6L512.0 154.1L513.2 152.5L514.4 150.9L515.5 149.2L516.6 147.6L517.6 145.8L518.6 144.1L519.5 142.4L520.4 140.6L521.3 138.8L522.1 136.9L522.9 135.1L523.7 133.2L524.5 131.4L525.2 129.5L526.0 127.6L526.7 125.7L527.4 123.8L528.2 121.9L528.9 120.0L529.6 118.1L530.4 116.3L531.1 114.4L531.9 112.5L532.7 110.7L533.5 108.8L534.3 107.0L535.2 105.2L536.0 103.4L537.0 101.6L537.9 99.9L539.0 98.2L540.0 96.5L541.1 94.9L542.3 93.2L543.5 91.6L544.7 90.1L545.9 88.5L547.2 87.0L548.5 85.5L549.9 84.0L551.2 82.5L552.6 81.0L553.9 79.5L555.3 78.1L556.6 76.6L558.0 75.1L559.3 73.7L560.7 72.2L562.0 70.7L563.3 69.2L564.5 67.7L565.8 66.2L567.0 64.7L568.2 63.1L569.4 61.6L570.5 60.0L571.7 58.4L572.8 56.8L574.0 55.2L575.1 53.5L576.3 51.9L577.4 50.2L578.6 48.5L579.8 46.8L581.0 45.1L582.2 43.4L583.5 41.8L584.9 40.2L586.4 38.9L587.9 37.8L589.7 37.0L591.5 36.5L593.4 36.3L595.3 36.4L597.1 36.9L598.8 37.8L600.3 38.9L601.7 40.4L603.0 42.0L604.2 43.7L605.3 45.4L606.4 47.2L607.4 49.0L608.4 50.8L609.3 52.5L610.3 54.3L611.2 56.1L612.1 57.9L612.9 59.7L613.8 61.5L614.7 63.3L615.5 65.1L616.4 66.9L617.2 68.7L618.1 70.5L618.9 72.3L619.7 74.1L620.5 76.0L621.4 77.8L622.2 79.6L623.0 81.4L623.8 83.3L624.6 85.1L625.3 87.0L626.1 88.8L626.9 90.7L627.7 92.5L628.4 94.4L629.2 96.2L629.9 98.1L630.7 99.9L631.4 101.8L632.1 103.7L632.8 105.5L633.6 107.4L634.3 109.3L635.0 111.2L635.7 113.1L636.3 114.9L637.0 116.8L637.7 118.7L638.3 120.6L639.0 122.5L639.6 124.4L640.3 126.3L640.9 128.2L641.6 130.1L642.2 132.0L642.9 133.9L643.5 135.8L644.2 137.6L644.9 139.5L645.7 141.4L646.4 143.2L647.2 145.1L648.1 146.9L648.9 148.7L649.8 150.5L650.8 152.3L651.8 154.1L652.8 155.8L653.9 157.5L655.1 159.1L656.4 160.5L657.9 161.6L659.5 162.5L661.4 162.9L663.4 162.9L665.7 162.4" fill="none" stroke="#8b1a1a" stroke-width="1.15"/>
<path d="M39.5 3.8V309.5H331.5" fill="none" stroke="#707070" stroke-width="1"/>
<path d="M36.0 309.50H39.5" stroke="#707070" stroke-width="1"/>
<text x="31.6" y="314.30" text-anchor="end">0</text>
<path d="M36.0 258.63H39.5" stroke="#707070" stroke-width="1"/>
<text x="31.6" y="263.43" text-anchor="end">10</text>
<path d="M36.0 207.77H39.5" stroke="#707070" stroke-width="1"/>
<text x="31.6" y="212.57" text-anchor="end">20</text>
<path d="M36.0 156.90H39.5" stroke="#707070" stroke-width="1"/>
<text x="31.6" y="161.70" text-anchor="end">30</text>
<path d="M36.0 106.03H39.5" stroke="#707070" stroke-width="1"/>
<text x="31.6" y="110.83" text-anchor="end">40</text>
<path d="M36.0 55.17H39.5" stroke="#707070" stroke-width="1"/>
<text x="31.6" y="59.97" text-anchor="end">50</text>
<path d="M36.0 4.30H39.5" stroke="#707070" stroke-width="1"/>
<text x="31.6" y="9.10" text-anchor="end">60</text>
<path d="M39.5 309.5V312.7" stroke="#707070" stroke-width="1"/>
<path d="M183.9 309.5V312.7" stroke="#707070" stroke-width="1"/>
<path d="M331.5 309.5V312.7" stroke="#707070" stroke-width="1"/>
<text x="39.7" y="330" text-anchor="middle">0</text>
<text x="183.7" y="330" text-anchor="middle" style="font-size:12.35px">% Strike</text>
<text x="331.1" y="330" text-anchor="middle">100</text>
<text transform="translate(9.6 157) rotate(-90)" text-anchor="middle" style="font-size:12.8px">Kinetic energy (J)</text>
<path d="M374.5 3.8V309.5H666.5" fill="none" stroke="#707070" stroke-width="1"/>
<path d="M371.0 309.50H374.5" stroke="#707070" stroke-width="1"/>
<text x="366.6" y="314.30" text-anchor="end">0</text>
<path d="M371.0 258.63H374.5" stroke="#707070" stroke-width="1"/>
<text x="366.6" y="263.43" text-anchor="end">2</text>
<path d="M371.0 207.77H374.5" stroke="#707070" stroke-width="1"/>
<text x="366.6" y="212.57" text-anchor="end">4</text>
<path d="M371.0 156.90H374.5" stroke="#707070" stroke-width="1"/>
<text x="366.6" y="161.70" text-anchor="end">6</text>
<path d="M371.0 106.03H374.5" stroke="#707070" stroke-width="1"/>
<text x="366.6" y="110.83" text-anchor="end">8</text>
<path d="M371.0 55.17H374.5" stroke="#707070" stroke-width="1"/>
<text x="366.6" y="59.97" text-anchor="end">10</text>
<path d="M371.0 4.30H374.5" stroke="#707070" stroke-width="1"/>
<text x="366.6" y="9.10" text-anchor="end">12</text>
<path d="M374.5 309.5V312.7" stroke="#707070" stroke-width="1"/>
<path d="M518.9 309.5V312.7" stroke="#707070" stroke-width="1"/>
<path d="M666.5 309.5V312.7" stroke="#707070" stroke-width="1"/>
<text x="374.7" y="330" text-anchor="middle">0</text>
<text x="518.7" y="330" text-anchor="middle" style="font-size:12.35px">% Strike</text>
<text x="666.1" y="330" text-anchor="middle">100</text>
<text transform="translate(346.5 157) rotate(-90)" text-anchor="middle" style="font-size:12.8px">Centre of mass velocity (m/s)</text>
<g>
<path d="M42.64 341.54 a1.43 1.79 0 1 1 2.86 0a1.43 1.79 0 1 1 -2.86 0ZM45.08 342.70L45.08 344.49L43.25 344.49L43.25 342.70ZM43.25 342.70 a0.92 0.92 0 1 1 1.83 0a0.92 0.92 0 1 1 -1.83 0ZM43.25 344.49 a0.92 0.92 0 1 1 1.83 0a0.92 0.92 0 1 1 -1.83 0ZM41.03 344.49L46.75 344.49L46.31 349.40L46.31 352.53L47.02 354.32L42.11 354.32L42.38 352.53L42.20 349.40ZM42.19 345.33L39.49 349.69L38.46 349.12L40.78 344.54ZM38.51 349.77L35.47 345.68L36.23 345.09L39.45 349.04ZM40.67 344.94 a0.81 0.81 0 1 1 1.62 0a0.81 0.81 0 1 1 -1.62 0ZM38.39 349.40 a0.59 0.59 0 1 1 1.18 0a0.59 0.59 0 1 1 -1.18 0ZM35.37 345.38 a0.48 0.48 0 1 1 0.96 0a0.48 0.48 0 1 1 -0.96 0ZM35.74 345.20L33.95 347.44L33.28 346.90L35.07 344.67ZM33.75 347.58L31.07 348.47L30.80 347.66L33.48 346.77ZM30.81 348.47L25.94 346.80L26.10 346.29L31.06 347.66ZM34.98 344.94 a0.43 0.43 0 1 1 0.85 0a0.43 0.43 0 1 1 -0.85 0ZM33.19 347.17 a0.43 0.43 0 1 1 0.85 0a0.43 0.43 0 1 1 -0.85 0ZM30.51 348.06 a0.43 0.43 0 1 1 0.85 0a0.43 0.43 0 1 1 -0.85 0ZM25.76 346.55 a0.26 0.26 0 1 1 0.53 0a0.26 0.26 0 1 1 -0.53 0ZM46.90 344.38L49.69 347.66L48.83 348.47L45.72 345.49ZM48.88 347.61L51.63 345.46L52.25 346.20L49.63 348.52ZM45.50 344.94 a0.81 0.81 0 1 1 1.62 0a0.81 0.81 0 1 1 -1.62 0ZM48.67 348.06 a0.59 0.59 0 1 1 1.18 0a0.59 0.59 0 1 1 -1.18 0ZM51.46 345.83 a0.48 0.48 0 1 1 0.96 0a0.48 0.48 0 1 1 -0.96 0ZM48.28 339.37L59.19 349.73L58.45 350.51L47.55 340.14ZM47.38 339.75 a0.54 0.54 0 1 1 1.07 0a0.54 0.54 0 1 1 -1.07 0ZM58.28 350.12 a0.54 0.54 0 1 1 1.07 0a0.54 0.54 0 1 1 -1.07 0ZM44.70 354.96L40.71 362.29L39.04 361.54L41.83 353.68ZM40.69 362.33L37.72 367.54L36.66 367.01L39.05 361.51ZM37.75 367.08L38.54 369.62L37.63 369.94L36.64 367.48ZM41.70 354.32 a1.57 1.57 0 1 1 3.14 0a1.57 1.57 0 1 1 -3.14 0ZM38.96 361.92 a0.92 0.92 0 1 1 1.83 0a0.92 0.92 0 1 1 -1.83 0ZM36.60 367.28 a0.59 0.59 0 1 1 1.18 0a0.59 0.59 0 1 1 -1.18 0ZM37.61 369.78 a0.48 0.48 0 1 1 0.96 0a0.48 0.48 0 1 1 -0.96 0ZM47.18 353.34L51.31 359.56L49.88 360.70L44.72 355.30ZM51.49 359.94L52.51 366.26L51.36 366.51L49.70 360.32ZM52.37 365.98L54.93 368.95L54.31 369.54L51.51 366.79ZM44.38 354.32 a1.57 1.57 0 1 1 3.14 0a1.57 1.57 0 1 1 -3.14 0ZM49.68 360.13 a0.92 0.92 0 1 1 1.83 0a0.92 0.92 0 1 1 -1.83 0ZM51.35 366.38 a0.59 0.59 0 1 1 1.18 0a0.59 0.59 0 1 1 -1.18 0ZM54.19 369.24 a0.43 0.43 0 1 1 0.85 0a0.43 0.43 0 1 1 -0.85 0ZM181.34 333.64L181.51 337.80L180.39 337.83L180.34 333.66ZM181.26 337.35L183.55 338.92L182.92 339.84L180.63 338.28ZM183.25 338.82L192.32 339.15L192.30 340.02L183.23 339.94ZM180.34 333.65 a0.50 0.50 0 1 1 0.99 0a0.50 0.50 0 1 1 -0.99 0ZM180.39 337.82 a0.56 0.56 0 1 1 1.12 0a0.56 0.56 0 1 1 -1.12 0ZM182.68 339.38 a0.56 0.56 0 1 1 1.12 0a0.56 0.56 0 1 1 -1.12 0ZM191.87 339.59 a0.43 0.43 0 1 1 0.87 0a0.43 0.43 0 1 1 -0.87 0ZM186.73 344.14L190.01 339.55L191.05 340.25L188.09 345.04ZM186.59 344.59 a0.82 0.82 0 1 1 1.63 0a0.82 0.82 0 1 1 -1.63 0ZM189.91 339.90 a0.62 0.62 0 1 1 1.25 0a0.62 0.62 0 1 1 -1.25 0ZM186.68 343.55 a1.46 1.46 0 1 1 2.92 0a1.46 1.46 0 1 1 -2.92 0ZM185.84 344.59L189.49 345.63L189.18 350.84L188.45 356.58L188.97 358.14L184.59 358.14L184.80 353.97L185.01 348.76ZM189.51 345.87L197.85 355.78L197.19 356.33L188.85 346.43ZM188.75 346.15 a0.43 0.43 0 1 1 0.87 0a0.43 0.43 0 1 1 -0.87 0ZM197.08 356.06 a0.43 0.43 0 1 1 0.87 0a0.43 0.43 0 1 1 -0.87 0ZM189.12 347.06L190.04 352.30L188.94 352.52L187.78 347.33ZM189.35 351.87L193.23 350.95L193.46 351.78L189.64 352.95ZM187.76 347.20 a0.69 0.69 0 1 1 1.38 0a0.69 0.69 0 1 1 -1.38 0ZM188.93 352.41 a0.56 0.56 0 1 1 1.12 0a0.56 0.56 0 1 1 -1.12 0ZM192.91 351.37 a0.43 0.43 0 1 1 0.87 0a0.43 0.43 0 1 1 -0.87 0ZM187.18 358.47L183.04 363.89L181.35 362.81L184.51 356.77ZM182.92 364.05L178.21 368.52L177.22 367.57L181.47 362.66ZM178.40 368.13L177.85 371.24L176.74 371.09L177.03 367.95ZM184.27 357.62 a1.58 1.58 0 1 1 3.16 0a1.58 1.58 0 1 1 -3.16 0ZM181.19 363.35 a1.01 1.01 0 1 1 2.01 0a1.01 1.01 0 1 1 -2.01 0ZM177.03 368.04 a0.69 0.69 0 1 1 1.38 0a0.69 0.69 0 1 1 -1.38 0ZM176.74 371.17 a0.56 0.56 0 1 1 1.12 0a0.56 0.56 0 1 1 -1.12 0ZM188.72 356.74L191.37 361.75L189.70 362.87L186.09 358.49ZM191.54 362.24L191.68 369.56L190.43 369.65L189.53 362.38ZM191.47 369.14L193.47 371.11L192.81 371.85L190.64 370.07ZM185.83 357.62 a1.58 1.58 0 1 1 3.16 0a1.58 1.58 0 1 1 -3.16 0ZM189.53 362.31 a1.01 1.01 0 1 1 2.01 0a1.01 1.01 0 1 1 -2.01 0ZM190.43 369.60 a0.62 0.62 0 1 1 1.25 0a0.62 0.62 0 1 1 -1.25 0ZM192.64 371.48 a0.50 0.50 0 1 1 0.99 0a0.50 0.50 0 1 1 -0.99 0ZM330.02 343.92 a1.59 1.59 0 1 1 3.18 0a1.59 1.59 0 1 1 -3.18 0ZM332.46 344.87L331.37 347.35L329.28 346.44L330.37 343.95ZM330.28 344.41 a1.14 1.14 0 1 1 2.28 0a1.14 1.14 0 1 1 -2.28 0ZM329.18 346.90 a1.14 1.14 0 1 1 2.28 0a1.14 1.14 0 1 1 -2.28 0ZM329.63 345.41L333.30 346.40L331.81 351.86L330.32 356.33L326.35 355.83L327.34 352.85L325.85 350.37L327.84 346.90ZM333.20 346.23L338.08 349.36L337.46 350.38L332.41 347.56ZM338.10 349.38L341.05 351.42L340.45 352.31L337.44 350.37ZM332.03 346.90 a0.78 0.78 0 1 1 1.55 0a0.78 0.78 0 1 1 -1.55 0ZM337.18 349.87 a0.59 0.59 0 1 1 1.19 0a0.59 0.59 0 1 1 -1.19 0ZM340.22 351.86 a0.53 0.53 0 1 1 1.07 0a0.53 0.53 0 1 1 -1.07 0ZM340.08 351.48L344.45 349.50L344.79 350.25L340.42 352.24ZM344.47 349.49L347.84 348.10L348.16 348.87L344.78 350.26ZM348.39 348.35L349.58 351.72L348.80 352.00L347.61 348.62ZM339.84 351.86 a0.41 0.41 0 1 1 0.83 0a0.41 0.41 0 1 1 -0.83 0ZM344.21 349.87 a0.41 0.41 0 1 1 0.83 0a0.41 0.41 0 1 1 -0.83 0ZM347.59 348.48 a0.41 0.41 0 1 1 0.83 0a0.41 0.41 0 1 1 -0.83 0ZM348.78 351.86 a0.41 0.41 0 1 1 0.83 0a0.41 0.41 0 1 1 -0.83 0ZM328.96 356.98L323.64 361.96L322.11 360.62L326.33 354.69ZM323.56 362.05L317.89 366.79L316.93 365.73L322.19 360.54ZM318.11 366.09L318.98 370.09L317.83 370.38L316.72 366.43ZM325.90 355.83 a1.75 1.75 0 1 1 3.49 0a1.75 1.75 0 1 1 -3.49 0ZM321.86 361.29 a1.02 1.02 0 1 1 2.04 0a1.02 1.02 0 1 1 -2.04 0ZM316.70 366.26 a0.72 0.72 0 1 1 1.43 0a0.72 0.72 0 1 1 -1.43 0ZM317.81 370.23 a0.59 0.59 0 1 1 1.19 0a0.59 0.59 0 1 1 -1.19 0ZM330.78 355.11L332.62 360.40L331.01 361.20L327.88 356.56ZM332.71 360.87L331.91 367.30L330.72 367.21L330.92 360.73ZM331.58 366.72L334.51 368.32L334.08 369.17L331.05 367.79ZM327.71 355.83 a1.62 1.62 0 1 1 3.25 0a1.62 1.62 0 1 1 -3.25 0ZM330.91 360.80 a0.90 0.90 0 1 1 1.80 0a0.90 0.90 0 1 1 -1.80 0ZM330.72 367.25 a0.59 0.59 0 1 1 1.19 0a0.59 0.59 0 1 1 -1.19 0ZM333.82 368.74 a0.47 0.47 0 1 1 0.95 0a0.47 0.47 0 1 1 -0.95 0Z" fill="#12825f"/>
<path d="M43.98 373.08 a1.43 1.70 0 1 1 2.86 0a1.43 1.70 0 1 1 -2.86 0ZM46.07 374.30L45.80 376.09L43.77 375.78L44.04 374.00ZM44.03 374.15 a1.03 1.03 0 1 1 2.05 0a1.03 1.03 0 1 1 -2.05 0ZM43.76 375.94 a1.03 1.03 0 1 1 2.05 0a1.03 1.03 0 1 1 -2.05 0ZM41.84 375.49L47.92 375.94L46.84 380.40L46.58 383.98L47.47 386.21L41.21 386.21L42.11 383.98L42.11 380.40ZM42.11 377.72L41.21 379.06L39.25 379.51L39.43 374.86L42.11 375.94ZM33.31 372.85L57.88 381.07L57.61 381.88L33.04 373.66ZM32.74 373.26 a0.43 0.43 0 1 1 0.85 0a0.43 0.43 0 1 1 -0.85 0ZM57.32 381.48 a0.43 0.43 0 1 1 0.85 0a0.43 0.43 0 1 1 -0.85 0ZM32.72 373.26 a0.63 0.63 0 1 1 1.25 0a0.63 0.63 0 1 1 -1.25 0ZM48.19 375.71L52.71 379.02L52.05 380.00L47.29 377.05ZM52.59 378.96L57.45 380.90L57.15 381.70L52.18 380.07ZM46.93 376.38 a0.81 0.81 0 1 1 1.62 0a0.81 0.81 0 1 1 -1.62 0ZM51.79 379.51 a0.59 0.59 0 1 1 1.18 0a0.59 0.59 0 1 1 -1.18 0ZM56.87 381.30 a0.43 0.43 0 1 1 0.85 0a0.43 0.43 0 1 1 -0.85 0ZM44.44 387.08L39.77 393.39L38.19 392.44L41.56 385.35ZM39.73 393.44L36.38 397.75L35.32 397.01L38.23 392.39ZM36.49 397.44L36.12 400.56L35.05 400.47L35.21 397.33ZM41.32 386.21 a1.68 1.68 0 1 1 3.36 0a1.68 1.68 0 1 1 -3.36 0ZM38.06 392.92 a0.92 0.92 0 1 1 1.83 0a0.92 0.92 0 1 1 -1.83 0ZM35.21 397.38 a0.64 0.64 0 1 1 1.29 0a0.64 0.64 0 1 1 -1.29 0ZM35.05 400.51 a0.54 0.54 0 1 1 1.07 0a0.54 0.54 0 1 1 -1.07 0ZM47.10 384.99L51.08 389.71L49.75 391.12L44.80 387.44ZM51.39 390.41L51.01 397.38L49.83 397.38L49.45 390.41ZM50.84 396.97L52.69 399.05L52.08 399.65L50.00 397.80ZM44.27 386.21 a1.68 1.68 0 1 1 3.36 0a1.68 1.68 0 1 1 -3.36 0ZM49.45 390.41 a0.97 0.97 0 1 1 1.94 0a0.97 0.97 0 1 1 -1.94 0ZM49.83 397.38 a0.59 0.59 0 1 1 1.18 0a0.59 0.59 0 1 1 -1.18 0ZM51.96 399.35 a0.43 0.43 0 1 1 0.85 0a0.43 0.43 0 1 1 -0.85 0ZM183.59 372.55 a0.76 0.76 0 1 1 1.51 0a0.76 0.76 0 1 1 -1.51 0ZM184.52 372.20L188.30 374.09L187.95 374.79L184.17 372.90ZM183.96 372.55 a0.39 0.39 0 1 1 0.79 0a0.39 0.39 0 1 1 -0.79 0ZM187.73 374.44 a0.39 0.39 0 1 1 0.79 0a0.39 0.39 0 1 1 -0.79 0ZM186.14 375.85 a1.51 1.51 0 1 1 3.02 0a1.51 1.51 0 1 1 -3.02 0ZM188.83 376.56L188.26 379.39L185.91 378.92L186.48 376.09ZM186.45 376.33 a1.20 1.20 0 1 1 2.40 0a1.20 1.20 0 1 1 -2.40 0ZM185.89 379.16 a1.20 1.20 0 1 1 2.40 0a1.20 1.20 0 1 1 -2.40 0ZM185.01 377.74L189.35 378.21L189.07 382.93L188.12 387.18L188.60 388.60L184.35 388.60L184.63 384.82L184.35 381.05ZM189.69 379.24L191.96 383.07L190.90 383.74L188.44 380.02ZM191.46 382.78L196.93 383.18L196.88 384.20L191.40 384.03ZM188.33 379.63 a0.74 0.74 0 1 1 1.48 0a0.74 0.74 0 1 1 -1.48 0ZM190.80 383.40 a0.62 0.62 0 1 1 1.25 0a0.62 0.62 0 1 1 -1.25 0ZM196.39 383.69 a0.51 0.51 0 1 1 1.02 0a0.51 0.51 0 1 1 -1.02 0ZM187.02 388.95L182.36 395.68L180.68 394.72L184.14 387.30ZM182.27 395.81L178.27 400.35L177.21 399.50L180.76 394.60ZM178.42 399.92L178.31 402.56L177.18 402.56L177.06 399.92ZM183.92 388.12 a1.66 1.66 0 1 1 3.32 0a1.66 1.66 0 1 1 -3.32 0ZM180.55 395.20 a0.97 0.97 0 1 1 1.94 0a0.97 0.97 0 1 1 -1.94 0ZM177.06 399.92 a0.68 0.68 0 1 1 1.36 0a0.68 0.68 0 1 1 -1.36 0ZM177.18 402.56 a0.57 0.57 0 1 1 1.13 0a0.57 0.57 0 1 1 -1.13 0ZM188.69 387.19L192.20 392.73L190.66 393.90L186.24 389.06ZM192.39 393.38L191.52 400.43L190.39 400.36L190.46 393.25ZM191.22 399.89L193.52 401.22L193.11 402.02L190.69 400.90ZM185.92 388.12 a1.54 1.54 0 1 1 3.09 0a1.54 1.54 0 1 1 -3.09 0ZM190.46 393.32 a0.97 0.97 0 1 1 1.94 0a0.97 0.97 0 1 1 -1.94 0ZM190.39 400.39 a0.57 0.57 0 1 1 1.13 0a0.57 0.57 0 1 1 -1.13 0ZM192.87 401.62 a0.45 0.45 0 1 1 0.90 0a0.45 0.45 0 1 1 -0.90 0ZM328.68 377.01 a1.43 1.43 0 1 1 2.86 0a1.43 1.43 0 1 1 -2.86 0ZM330.74 378.04L329.67 380.00L327.87 379.02L328.94 377.05ZM328.81 377.55 a1.03 1.03 0 1 1 2.05 0a1.03 1.03 0 1 1 -2.05 0ZM327.74 379.51 a1.03 1.03 0 1 1 2.05 0a1.03 1.03 0 1 1 -2.05 0ZM326.53 378.62L331.00 378.17L329.48 383.09L328.50 390.68L322.51 389.16L324.30 383.98ZM330.51 379.84L333.58 382.16L332.89 383.12L329.70 380.97ZM333.38 382.07L336.93 383.07L336.69 384.00L333.09 383.21ZM329.41 380.40 a0.70 0.70 0 1 1 1.40 0a0.70 0.70 0 1 1 -1.40 0ZM332.65 382.64 a0.59 0.59 0 1 1 1.18 0a0.59 0.59 0 1 1 -1.18 0ZM336.33 383.53 a0.48 0.48 0 1 1 0.96 0a0.48 0.48 0 1 1 -0.96 0ZM336.13 383.24L340.16 380.11L340.61 380.70L336.59 383.83ZM335.99 383.53 a0.37 0.37 0 1 1 0.74 0a0.37 0.37 0 1 1 -0.74 0ZM340.01 380.40 a0.37 0.37 0 1 1 0.74 0a0.37 0.37 0 1 1 -0.74 0ZM339.76 380.40 a0.80 0.80 0 1 1 1.61 0a0.80 0.80 0 1 1 -1.61 0ZM325.33 389.69L321.53 395.14L319.92 394.27L322.37 388.10ZM321.41 395.32L317.18 399.60L316.22 398.74L320.04 394.09ZM317.27 398.87L318.51 401.42L317.57 401.93L316.13 399.48ZM322.17 388.89 a1.68 1.68 0 1 1 3.36 0a1.68 1.68 0 1 1 -3.36 0ZM319.81 394.70 a0.92 0.92 0 1 1 1.83 0a0.92 0.92 0 1 1 -1.83 0ZM316.06 399.17 a0.64 0.64 0 1 1 1.29 0a0.64 0.64 0 1 1 -1.29 0ZM317.51 401.67 a0.54 0.54 0 1 1 1.07 0a0.54 0.54 0 1 1 -1.07 0ZM328.79 389.53L330.02 394.39L328.41 395.01L326.06 390.58ZM330.07 394.79L329.30 399.22L328.23 399.12L328.36 394.62ZM329.11 398.76L331.72 401.08L331.17 401.73L328.42 399.58ZM325.96 390.06 a1.46 1.46 0 1 1 2.92 0a1.46 1.46 0 1 1 -2.92 0ZM328.35 394.70 a0.86 0.86 0 1 1 1.72 0a0.86 0.86 0 1 1 -1.72 0ZM328.23 399.17 a0.54 0.54 0 1 1 1.07 0a0.54 0.54 0 1 1 -1.07 0ZM331.02 401.41 a0.43 0.43 0 1 1 0.85 0a0.43 0.43 0 1 1 -0.85 0Z" fill="#982e0c"/>
</g>
<g transform="translate(335 0)">
<path d="M42.64 341.54 a1.43 1.79 0 1 1 2.86 0a1.43 1.79 0 1 1 -2.86 0ZM45.08 342.70L45.08 344.49L43.25 344.49L43.25 342.70ZM43.25 342.70 a0.92 0.92 0 1 1 1.83 0a0.92 0.92 0 1 1 -1.83 0ZM43.25 344.49 a0.92 0.92 0 1 1 1.83 0a0.92 0.92 0 1 1 -1.83 0ZM41.03 344.49L46.75 344.49L46.31 349.40L46.31 352.53L47.02 354.32L42.11 354.32L42.38 352.53L42.20 349.40ZM42.19 345.33L39.49 349.69L38.46 349.12L40.78 344.54ZM38.51 349.77L35.47 345.68L36.23 345.09L39.45 349.04ZM40.67 344.94 a0.81 0.81 0 1 1 1.62 0a0.81 0.81 0 1 1 -1.62 0ZM38.39 349.40 a0.59 0.59 0 1 1 1.18 0a0.59 0.59 0 1 1 -1.18 0ZM35.37 345.38 a0.48 0.48 0 1 1 0.96 0a0.48 0.48 0 1 1 -0.96 0ZM35.74 345.20L33.95 347.44L33.28 346.90L35.07 344.67ZM33.75 347.58L31.07 348.47L30.80 347.66L33.48 346.77ZM30.81 348.47L25.94 346.80L26.10 346.29L31.06 347.66ZM34.98 344.94 a0.43 0.43 0 1 1 0.85 0a0.43 0.43 0 1 1 -0.85 0ZM33.19 347.17 a0.43 0.43 0 1 1 0.85 0a0.43 0.43 0 1 1 -0.85 0ZM30.51 348.06 a0.43 0.43 0 1 1 0.85 0a0.43 0.43 0 1 1 -0.85 0ZM25.76 346.55 a0.26 0.26 0 1 1 0.53 0a0.26 0.26 0 1 1 -0.53 0ZM46.90 344.38L49.69 347.66L48.83 348.47L45.72 345.49ZM48.88 347.61L51.63 345.46L52.25 346.20L49.63 348.52ZM45.50 344.94 a0.81 0.81 0 1 1 1.62 0a0.81 0.81 0 1 1 -1.62 0ZM48.67 348.06 a0.59 0.59 0 1 1 1.18 0a0.59 0.59 0 1 1 -1.18 0ZM51.46 345.83 a0.48 0.48 0 1 1 0.96 0a0.48 0.48 0 1 1 -0.96 0ZM48.28 339.37L59.19 349.73L58.45 350.51L47.55 340.14ZM47.38 339.75 a0.54 0.54 0 1 1 1.07 0a0.54 0.54 0 1 1 -1.07 0ZM58.28 350.12 a0.54 0.54 0 1 1 1.07 0a0.54 0.54 0 1 1 -1.07 0ZM44.70 354.96L40.71 362.29L39.04 361.54L41.83 353.68ZM40.69 362.33L37.72 367.54L36.66 367.01L39.05 361.51ZM37.75 367.08L38.54 369.62L37.63 369.94L36.64 367.48ZM41.70 354.32 a1.57 1.57 0 1 1 3.14 0a1.57 1.57 0 1 1 -3.14 0ZM38.96 361.92 a0.92 0.92 0 1 1 1.83 0a0.92 0.92 0 1 1 -1.83 0ZM36.60 367.28 a0.59 0.59 0 1 1 1.18 0a0.59 0.59 0 1 1 -1.18 0ZM37.61 369.78 a0.48 0.48 0 1 1 0.96 0a0.48 0.48 0 1 1 -0.96 0ZM47.18 353.34L51.31 359.56L49.88 360.70L44.72 355.30ZM51.49 359.94L52.51 366.26L51.36 366.51L49.70 360.32ZM52.37 365.98L54.93 368.95L54.31 369.54L51.51 366.79ZM44.38 354.32 a1.57 1.57 0 1 1 3.14 0a1.57 1.57 0 1 1 -3.14 0ZM49.68 360.13 a0.92 0.92 0 1 1 1.83 0a0.92 0.92 0 1 1 -1.83 0ZM51.35 366.38 a0.59 0.59 0 1 1 1.18 0a0.59 0.59 0 1 1 -1.18 0ZM54.19 369.24 a0.43 0.43 0 1 1 0.85 0a0.43 0.43 0 1 1 -0.85 0ZM181.34 333.64L181.51 337.80L180.39 337.83L180.34 333.66ZM181.26 337.35L183.55 338.92L182.92 339.84L180.63 338.28ZM183.25 338.82L192.32 339.15L192.30 340.02L183.23 339.94ZM180.34 333.65 a0.50 0.50 0 1 1 0.99 0a0.50 0.50 0 1 1 -0.99 0ZM180.39 337.82 a0.56 0.56 0 1 1 1.12 0a0.56 0.56 0 1 1 -1.12 0ZM182.68 339.38 a0.56 0.56 0 1 1 1.12 0a0.56 0.56 0 1 1 -1.12 0ZM191.87 339.59 a0.43 0.43 0 1 1 0.87 0a0.43 0.43 0 1 1 -0.87 0ZM186.73 344.14L190.01 339.55L191.05 340.25L188.09 345.04ZM186.59 344.59 a0.82 0.82 0 1 1 1.63 0a0.82 0.82 0 1 1 -1.63 0ZM189.91 339.90 a0.62 0.62 0 1 1 1.25 0a0.62 0.62 0 1 1 -1.25 0ZM186.68 343.55 a1.46 1.46 0 1 1 2.92 0a1.46 1.46 0 1 1 -2.92 0ZM185.84 344.59L189.49 345.63L189.18 350.84L188.45 356.58L188.97 358.14L184.59 358.14L184.80 353.97L185.01 348.76ZM189.51 345.87L197.85 355.78L197.19 356.33L188.85 346.43ZM188.75 346.15 a0.43 0.43 0 1 1 0.87 0a0.43 0.43 0 1 1 -0.87 0ZM197.08 356.06 a0.43 0.43 0 1 1 0.87 0a0.43 0.43 0 1 1 -0.87 0ZM189.12 347.06L190.04 352.30L188.94 352.52L187.78 347.33ZM189.35 351.87L193.23 350.95L193.46 351.78L189.64 352.95ZM187.76 347.20 a0.69 0.69 0 1 1 1.38 0a0.69 0.69 0 1 1 -1.38 0ZM188.93 352.41 a0.56 0.56 0 1 1 1.12 0a0.56 0.56 0 1 1 -1.12 0ZM192.91 351.37 a0.43 0.43 0 1 1 0.87 0a0.43 0.43 0 1 1 -0.87 0ZM187.18 358.47L183.04 363.89L181.35 362.81L184.51 356.77ZM182.92 364.05L178.21 368.52L177.22 367.57L181.47 362.66ZM178.40 368.13L177.85 371.24L176.74 371.09L177.03 367.95ZM184.27 357.62 a1.58 1.58 0 1 1 3.16 0a1.58 1.58 0 1 1 -3.16 0ZM181.19 363.35 a1.01 1.01 0 1 1 2.01 0a1.01 1.01 0 1 1 -2.01 0ZM177.03 368.04 a0.69 0.69 0 1 1 1.38 0a0.69 0.69 0 1 1 -1.38 0ZM176.74 371.17 a0.56 0.56 0 1 1 1.12 0a0.56 0.56 0 1 1 -1.12 0ZM188.72 356.74L191.37 361.75L189.70 362.87L186.09 358.49ZM191.54 362.24L191.68 369.56L190.43 369.65L189.53 362.38ZM191.47 369.14L193.47 371.11L192.81 371.85L190.64 370.07ZM185.83 357.62 a1.58 1.58 0 1 1 3.16 0a1.58 1.58 0 1 1 -3.16 0ZM189.53 362.31 a1.01 1.01 0 1 1 2.01 0a1.01 1.01 0 1 1 -2.01 0ZM190.43 369.60 a0.62 0.62 0 1 1 1.25 0a0.62 0.62 0 1 1 -1.25 0ZM192.64 371.48 a0.50 0.50 0 1 1 0.99 0a0.50 0.50 0 1 1 -0.99 0ZM330.02 343.92 a1.59 1.59 0 1 1 3.18 0a1.59 1.59 0 1 1 -3.18 0ZM332.46 344.87L331.37 347.35L329.28 346.44L330.37 343.95ZM330.28 344.41 a1.14 1.14 0 1 1 2.28 0a1.14 1.14 0 1 1 -2.28 0ZM329.18 346.90 a1.14 1.14 0 1 1 2.28 0a1.14 1.14 0 1 1 -2.28 0ZM329.63 345.41L333.30 346.40L331.81 351.86L330.32 356.33L326.35 355.83L327.34 352.85L325.85 350.37L327.84 346.90ZM333.20 346.23L338.08 349.36L337.46 350.38L332.41 347.56ZM338.10 349.38L341.05 351.42L340.45 352.31L337.44 350.37ZM332.03 346.90 a0.78 0.78 0 1 1 1.55 0a0.78 0.78 0 1 1 -1.55 0ZM337.18 349.87 a0.59 0.59 0 1 1 1.19 0a0.59 0.59 0 1 1 -1.19 0ZM340.22 351.86 a0.53 0.53 0 1 1 1.07 0a0.53 0.53 0 1 1 -1.07 0ZM340.08 351.48L344.45 349.50L344.79 350.25L340.42 352.24ZM344.47 349.49L347.84 348.10L348.16 348.87L344.78 350.26ZM348.39 348.35L349.58 351.72L348.80 352.00L347.61 348.62ZM339.84 351.86 a0.41 0.41 0 1 1 0.83 0a0.41 0.41 0 1 1 -0.83 0ZM344.21 349.87 a0.41 0.41 0 1 1 0.83 0a0.41 0.41 0 1 1 -0.83 0ZM347.59 348.48 a0.41 0.41 0 1 1 0.83 0a0.41 0.41 0 1 1 -0.83 0ZM348.78 351.86 a0.41 0.41 0 1 1 0.83 0a0.41 0.41 0 1 1 -0.83 0ZM328.96 356.98L323.64 361.96L322.11 360.62L326.33 354.69ZM323.56 362.05L317.89 366.79L316.93 365.73L322.19 360.54ZM318.11 366.09L318.98 370.09L317.83 370.38L316.72 366.43ZM325.90 355.83 a1.75 1.75 0 1 1 3.49 0a1.75 1.75 0 1 1 -3.49 0ZM321.86 361.29 a1.02 1.02 0 1 1 2.04 0a1.02 1.02 0 1 1 -2.04 0ZM316.70 366.26 a0.72 0.72 0 1 1 1.43 0a0.72 0.72 0 1 1 -1.43 0ZM317.81 370.23 a0.59 0.59 0 1 1 1.19 0a0.59 0.59 0 1 1 -1.19 0ZM330.78 355.11L332.62 360.40L331.01 361.20L327.88 356.56ZM332.71 360.87L331.91 367.30L330.72 367.21L330.92 360.73ZM331.58 366.72L334.51 368.32L334.08 369.17L331.05 367.79ZM327.71 355.83 a1.62 1.62 0 1 1 3.25 0a1.62 1.62 0 1 1 -3.25 0ZM330.91 360.80 a0.90 0.90 0 1 1 1.80 0a0.90 0.90 0 1 1 -1.80 0ZM330.72 367.25 a0.59 0.59 0 1 1 1.19 0a0.59 0.59 0 1 1 -1.19 0ZM333.82 368.74 a0.47 0.47 0 1 1 0.95 0a0.47 0.47 0 1 1 -0.95 0Z" fill="#12825f"/>
<path d="M43.98 373.08 a1.43 1.70 0 1 1 2.86 0a1.43 1.70 0 1 1 -2.86 0ZM46.07 374.30L45.80 376.09L43.77 375.78L44.04 374.00ZM44.03 374.15 a1.03 1.03 0 1 1 2.05 0a1.03 1.03 0 1 1 -2.05 0ZM43.76 375.94 a1.03 1.03 0 1 1 2.05 0a1.03 1.03 0 1 1 -2.05 0ZM41.84 375.49L47.92 375.94L46.84 380.40L46.58 383.98L47.47 386.21L41.21 386.21L42.11 383.98L42.11 380.40ZM42.11 377.72L41.21 379.06L39.25 379.51L39.43 374.86L42.11 375.94ZM33.31 372.85L57.88 381.07L57.61 381.88L33.04 373.66ZM32.74 373.26 a0.43 0.43 0 1 1 0.85 0a0.43 0.43 0 1 1 -0.85 0ZM57.32 381.48 a0.43 0.43 0 1 1 0.85 0a0.43 0.43 0 1 1 -0.85 0ZM32.72 373.26 a0.63 0.63 0 1 1 1.25 0a0.63 0.63 0 1 1 -1.25 0ZM48.19 375.71L52.71 379.02L52.05 380.00L47.29 377.05ZM52.59 378.96L57.45 380.90L57.15 381.70L52.18 380.07ZM46.93 376.38 a0.81 0.81 0 1 1 1.62 0a0.81 0.81 0 1 1 -1.62 0ZM51.79 379.51 a0.59 0.59 0 1 1 1.18 0a0.59 0.59 0 1 1 -1.18 0ZM56.87 381.30 a0.43 0.43 0 1 1 0.85 0a0.43 0.43 0 1 1 -0.85 0ZM44.44 387.08L39.77 393.39L38.19 392.44L41.56 385.35ZM39.73 393.44L36.38 397.75L35.32 397.01L38.23 392.39ZM36.49 397.44L36.12 400.56L35.05 400.47L35.21 397.33ZM41.32 386.21 a1.68 1.68 0 1 1 3.36 0a1.68 1.68 0 1 1 -3.36 0ZM38.06 392.92 a0.92 0.92 0 1 1 1.83 0a0.92 0.92 0 1 1 -1.83 0ZM35.21 397.38 a0.64 0.64 0 1 1 1.29 0a0.64 0.64 0 1 1 -1.29 0ZM35.05 400.51 a0.54 0.54 0 1 1 1.07 0a0.54 0.54 0 1 1 -1.07 0ZM47.10 384.99L51.08 389.71L49.75 391.12L44.80 387.44ZM51.39 390.41L51.01 397.38L49.83 397.38L49.45 390.41ZM50.84 396.97L52.69 399.05L52.08 399.65L50.00 397.80ZM44.27 386.21 a1.68 1.68 0 1 1 3.36 0a1.68 1.68 0 1 1 -3.36 0ZM49.45 390.41 a0.97 0.97 0 1 1 1.94 0a0.97 0.97 0 1 1 -1.94 0ZM49.83 397.38 a0.59 0.59 0 1 1 1.18 0a0.59 0.59 0 1 1 -1.18 0ZM51.96 399.35 a0.43 0.43 0 1 1 0.85 0a0.43 0.43 0 1 1 -0.85 0ZM183.59 372.55 a0.76 0.76 0 1 1 1.51 0a0.76 0.76 0 1 1 -1.51 0ZM184.52 372.20L188.30 374.09L187.95 374.79L184.17 372.90ZM183.96 372.55 a0.39 0.39 0 1 1 0.79 0a0.39 0.39 0 1 1 -0.79 0ZM187.73 374.44 a0.39 0.39 0 1 1 0.79 0a0.39 0.39 0 1 1 -0.79 0ZM186.14 375.85 a1.51 1.51 0 1 1 3.02 0a1.51 1.51 0 1 1 -3.02 0ZM188.83 376.56L188.26 379.39L185.91 378.92L186.48 376.09ZM186.45 376.33 a1.20 1.20 0 1 1 2.40 0a1.20 1.20 0 1 1 -2.40 0ZM185.89 379.16 a1.20 1.20 0 1 1 2.40 0a1.20 1.20 0 1 1 -2.40 0ZM185.01 377.74L189.35 378.21L189.07 382.93L188.12 387.18L188.60 388.60L184.35 388.60L184.63 384.82L184.35 381.05ZM189.69 379.24L191.96 383.07L190.90 383.74L188.44 380.02ZM191.46 382.78L196.93 383.18L196.88 384.20L191.40 384.03ZM188.33 379.63 a0.74 0.74 0 1 1 1.48 0a0.74 0.74 0 1 1 -1.48 0ZM190.80 383.40 a0.62 0.62 0 1 1 1.25 0a0.62 0.62 0 1 1 -1.25 0ZM196.39 383.69 a0.51 0.51 0 1 1 1.02 0a0.51 0.51 0 1 1 -1.02 0ZM187.02 388.95L182.36 395.68L180.68 394.72L184.14 387.30ZM182.27 395.81L178.27 400.35L177.21 399.50L180.76 394.60ZM178.42 399.92L178.31 402.56L177.18 402.56L177.06 399.92ZM183.92 388.12 a1.66 1.66 0 1 1 3.32 0a1.66 1.66 0 1 1 -3.32 0ZM180.55 395.20 a0.97 0.97 0 1 1 1.94 0a0.97 0.97 0 1 1 -1.94 0ZM177.06 399.92 a0.68 0.68 0 1 1 1.36 0a0.68 0.68 0 1 1 -1.36 0ZM177.18 402.56 a0.57 0.57 0 1 1 1.13 0a0.57 0.57 0 1 1 -1.13 0ZM188.69 387.19L192.20 392.73L190.66 393.90L186.24 389.06ZM192.39 393.38L191.52 400.43L190.39 400.36L190.46 393.25ZM191.22 399.89L193.52 401.22L193.11 402.02L190.69 400.90ZM185.92 388.12 a1.54 1.54 0 1 1 3.09 0a1.54 1.54 0 1 1 -3.09 0ZM190.46 393.32 a0.97 0.97 0 1 1 1.94 0a0.97 0.97 0 1 1 -1.94 0ZM190.39 400.39 a0.57 0.57 0 1 1 1.13 0a0.57 0.57 0 1 1 -1.13 0ZM192.87 401.62 a0.45 0.45 0 1 1 0.90 0a0.45 0.45 0 1 1 -0.90 0ZM328.68 377.01 a1.43 1.43 0 1 1 2.86 0a1.43 1.43 0 1 1 -2.86 0ZM330.74 378.04L329.67 380.00L327.87 379.02L328.94 377.05ZM328.81 377.55 a1.03 1.03 0 1 1 2.05 0a1.03 1.03 0 1 1 -2.05 0ZM327.74 379.51 a1.03 1.03 0 1 1 2.05 0a1.03 1.03 0 1 1 -2.05 0ZM326.53 378.62L331.00 378.17L329.48 383.09L328.50 390.68L322.51 389.16L324.30 383.98ZM330.51 379.84L333.58 382.16L332.89 383.12L329.70 380.97ZM333.38 382.07L336.93 383.07L336.69 384.00L333.09 383.21ZM329.41 380.40 a0.70 0.70 0 1 1 1.40 0a0.70 0.70 0 1 1 -1.40 0ZM332.65 382.64 a0.59 0.59 0 1 1 1.18 0a0.59 0.59 0 1 1 -1.18 0ZM336.33 383.53 a0.48 0.48 0 1 1 0.96 0a0.48 0.48 0 1 1 -0.96 0ZM336.13 383.24L340.16 380.11L340.61 380.70L336.59 383.83ZM335.99 383.53 a0.37 0.37 0 1 1 0.74 0a0.37 0.37 0 1 1 -0.74 0ZM340.01 380.40 a0.37 0.37 0 1 1 0.74 0a0.37 0.37 0 1 1 -0.74 0ZM339.76 380.40 a0.80 0.80 0 1 1 1.61 0a0.80 0.80 0 1 1 -1.61 0ZM325.33 389.69L321.53 395.14L319.92 394.27L322.37 388.10ZM321.41 395.32L317.18 399.60L316.22 398.74L320.04 394.09ZM317.27 398.87L318.51 401.42L317.57 401.93L316.13 399.48ZM322.17 388.89 a1.68 1.68 0 1 1 3.36 0a1.68 1.68 0 1 1 -3.36 0ZM319.81 394.70 a0.92 0.92 0 1 1 1.83 0a0.92 0.92 0 1 1 -1.83 0ZM316.06 399.17 a0.64 0.64 0 1 1 1.29 0a0.64 0.64 0 1 1 -1.29 0ZM317.51 401.67 a0.54 0.54 0 1 1 1.07 0a0.54 0.54 0 1 1 -1.07 0ZM328.79 389.53L330.02 394.39L328.41 395.01L326.06 390.58ZM330.07 394.79L329.30 399.22L328.23 399.12L328.36 394.62ZM329.11 398.76L331.72 401.08L331.17 401.73L328.42 399.58ZM325.96 390.06 a1.46 1.46 0 1 1 2.92 0a1.46 1.46 0 1 1 -2.92 0ZM328.35 394.70 a0.86 0.86 0 1 1 1.72 0a0.86 0.86 0 1 1 -1.72 0ZM328.23 399.17 a0.54 0.54 0 1 1 1.07 0a0.54 0.54 0 1 1 -1.07 0ZM331.02 401.41 a0.43 0.43 0 1 1 0.85 0a0.43 0.43 0 1 1 -0.85 0Z" fill="#982e0c"/>
</g>
</svg>
</body></html>
